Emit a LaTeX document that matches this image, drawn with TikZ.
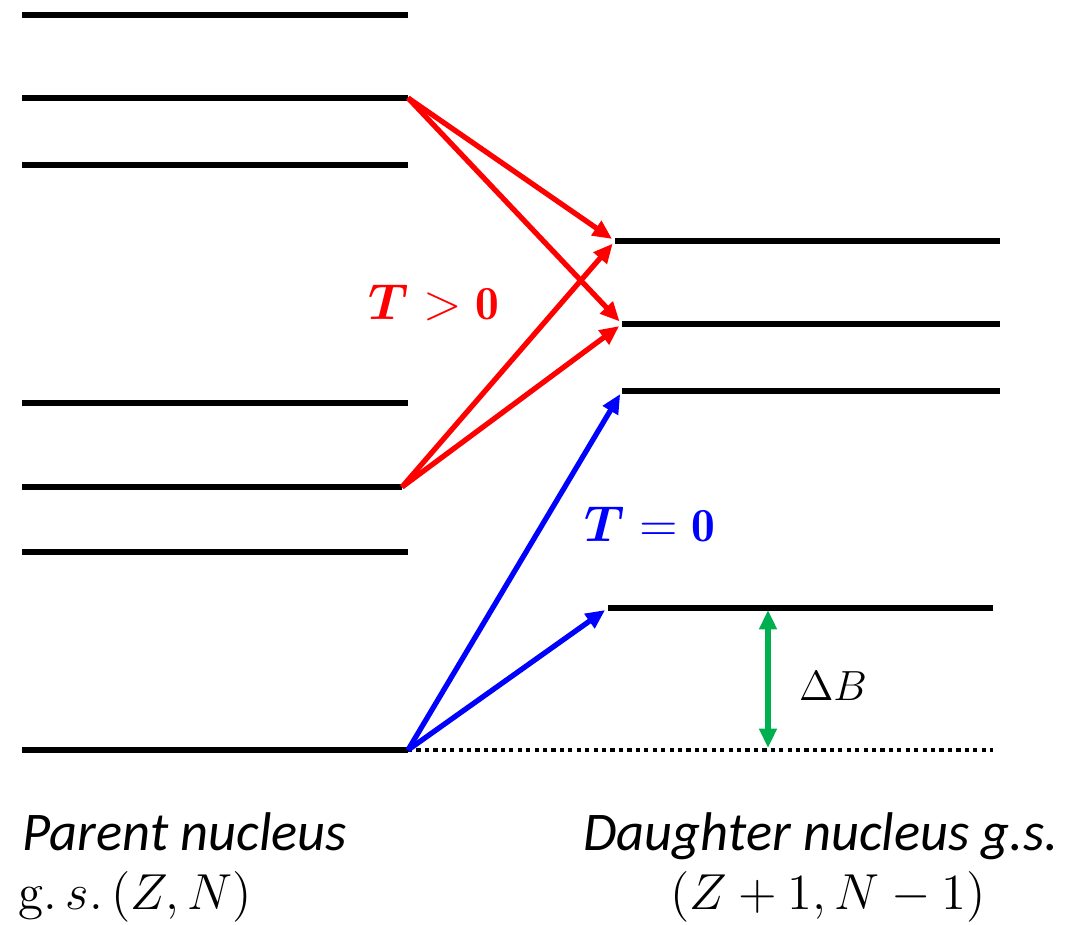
\documentclass[tikz,border=0pt]{standalone}
\usepackage{amsmath,amssymb,bm}
\usepackage{fontspec}
\usetikzlibrary{arrows.meta}
\newfontfamily\labelfont{Carlito}
\definecolor{tpos}{HTML}{FF0000}
\definecolor{tzero}{HTML}{0000FF}
\definecolor{gap}{HTML}{00B050}

\begin{document}
\begin{tikzpicture}[
  lvl/.style={line width=1.6pt},
  trans/.style={line width=1.5pt,shorten >=1pt,-{Triangle[length=5.5pt,width=4.8pt]}},
  big/.style={font=\fontsize{15.5}{18}\selectfont},
  eq/.style={font=\fontsize{14.5}{17}\selectfont},
  mid/.style={font=\fontsize{13.5}{16}\selectfont}
]
  \useasboundingbox (0,0) rectangle (10.66,9.25);
  % parent levels
  \foreach \y/\x [count=\i] in {9.10/4.08,8.27/4.08,7.60/4.08,5.22/4.08,4.38/4.02,3.73/4.08,1.75/4.08}
    \draw[lvl] (0.22,\y) -- (\x,\y) coordinate (p\i);
  % daughter levels
  \foreach \y/\xa/\xb [count=\i] in {6.84/6.15/10.00,6.01/6.22/10.00,5.34/6.22/10.00,3.17/6.08/9.93}
    \draw[lvl] (\xb,\y) -- (\xa,\y) coordinate (d\i);
  \coordinate (gs) at (9.93,1.75);
  \draw[line width=1.2pt,dash pattern=on 1.2pt off 1.2pt] (p7) -- (gs);
  % transitions
  \draw[trans,tpos] (p2) -- (d1);
  \draw[trans,tpos] (p2) -- (d2);
  \draw[trans,tpos] (p5) -- (d1);
  \draw[trans,tpos] (p5) -- (d2);
  \draw[trans,tzero] (p7) -- (d3);
  \draw[trans,tzero] (p7) -- (d4);
  \node[mid,tpos] (tp) at (4.34,6.22) {$\boldsymbol{T}>\mathbf{0}$};
  \node[mid,tzero] (tz) at (6.50,4.01) {$\boldsymbol{T}=\mathbf{0}$};
  % binding energy gap
  \coordinate (b0) at (7.68,1.77);
  \coordinate (b1) at (7.68,3.15);
  \draw[gap,line width=1.5pt,{Triangle[length=5.5pt,width=4.8pt]}-{Triangle[length=5.5pt,width=4.8pt]}] (b0) -- (b1);
  \node[font=\fontsize{12.5}{15}\selectfont] (db) at (8.33,2.39) {$\Delta B$};
  % captions
  \node[big,anchor=base west,inner sep=0pt] (pn) at (0.22,0.74) {\labelfont\itshape Parent nucleus};
  \node[eq,anchor=base west,inner sep=0pt] (pz) at (0.18,0.15) {$\mathrm{g}.\,s.\,(Z,N)$};
  \node[big,anchor=base,inner sep=0pt] (dn) at (8.21,0.74) {\labelfont\itshape Daughter nucleus g.s.};
  \node[eq,anchor=base,inner sep=0pt] (dz) at (8.28,0.15) {$(Z+1,N-1)$};
\end{tikzpicture}
\end{document}
